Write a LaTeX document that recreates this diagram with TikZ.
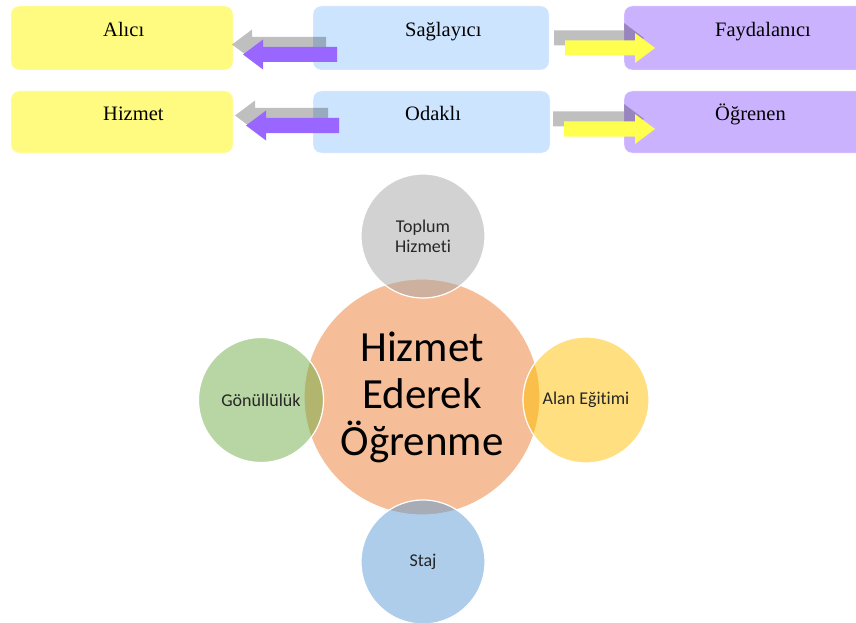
\documentclass[tikz,border=0pt]{standalone}
\usepackage{fontspec}
\setmainfont{Liberation Serif}
\newfontfamily\calibri[Ligatures=NoCommon]{Carlito}
\definecolor{boxyellow}{HTML}{FFFB80}
\definecolor{boxblue}{HTML}{CCE4FE}
\definecolor{boxpurple}{HTML}{CBB2FE}
\definecolor{arrpurple}{HTML}{9966FF}
\definecolor{arryellow}{HTML}{FFFF4F}
\definecolor{ringorange}{HTML}{ED7D31}
\definecolor{ringgrey}{HTML}{A5A5A5}
\definecolor{ringgreen}{HTML}{70AD47}
\definecolor{ringgold}{HTML}{FFC000}
\definecolor{ringblue}{HTML}{5B9BD5}

\begin{document}
\begin{tikzpicture}[x=1pt,y=-1pt,
    box/.style={rounded corners=8pt,draw=white,minimum height=64,inner sep=0},
    lbl/.style={anchor=base west,inner sep=0,font=\fontsize{20.5}{24}\selectfont},
    shade/.style={fill=black,fill opacity=0.25},
    ring/.style={circle,draw=white,line width=1.2pt,fill opacity=0.5,text opacity=1,inner sep=0,align=center,text=black!85,font=\calibri\fontsize{18}{20}\selectfont}]
  \useasboundingbox (0,0) rectangle (856,623);
  \clip (0,0) rectangle (856,623);
  % roles
  \node[box,fill=boxyellow,minimum width=222] (alici) at (122,38) {};
  \node[box,fill=boxblue,minimum width=236] (saglayici) at (431,38) {};
  \node[box,fill=boxpurple,minimum width=260] (faydalanici) at (754,38) {};
  \node[box,fill=boxyellow,minimum width=222,minimum height=62] (hizmet) at (122,122) {};
  \node[box,fill=boxblue,minimum width=237,minimum height=62] (odakli) at (431.5,122) {};
  \node[box,fill=boxpurple,minimum width=260,minimum height=62] (ogrenen) at (754,122) {};
  \node[lbl] (alicitext) at (103,37) {Alıcı};
  \node[lbl] (saglayicitext) at (405,37) {Sağlayıcı};
  \node[lbl] (faydalanicitext) at (715,37) {Faydalanıcı};
  \node[lbl] (hizmettext) at (103,121) {Hizmet};
  \node[lbl] (odaklitext) at (405,121) {Odaklı};
  \node[lbl] (ogrenentext) at (715,121) {Öğrenen};
  % block arrows, grey shadow first
  \fill[shade] (232,44.5) -- (252,29.5) -- (252,37) -- (326,37) -- (326,52) -- (252,52) -- (252,59.5) -- cycle;
  \fill[arrpurple] (243,54.5) -- (263,39.5) -- (263,47) -- (337,47) -- (337,62) -- (263,62) -- (263,69.5) -- cycle;
  \fill[shade] (235,115.5) -- (255,100.5) -- (255,108) -- (328,108) -- (328,123) -- (255,123) -- (255,130.5) -- cycle;
  \fill[arrpurple] (246,125.5) -- (266,110.5) -- (266,118) -- (339,118) -- (339,133) -- (266,133) -- (266,140.5) -- cycle;
  \fill[shade] (644,38) -- (624,23) -- (624,30.5) -- (554,30.5) -- (554,45.5) -- (624,45.5) -- (624,53) -- cycle;
  \fill[arryellow] (655,48) -- (635,33) -- (635,40.5) -- (565,40.5) -- (565,55.5) -- (635,55.5) -- (635,63) -- cycle;
  \fill[shade] (644,119) -- (624,104) -- (624,111.5) -- (553,111.5) -- (553,126.5) -- (624,126.5) -- (624,134) -- cycle;
  \fill[arryellow] (655,129) -- (635,114) -- (635,121.5) -- (564,121.5) -- (564,136.5) -- (635,136.5) -- (635,144) -- cycle;
  % radial venn
  \node[ring,fill=ringorange,minimum size=236,text=black,font=\calibri\fontsize{43}{47}\selectfont] (core) at (422,397) {Hizmet\\Ederek\\Öğrenme};
  \node[ring,fill=ringgrey,minimum size=124] (toplum) at (423,236) {Toplum\\Hizmeti};
  \node[ring,fill=ringgreen,minimum size=125] (gonullu) at (261,400) {Gönüllülük};
  \node[ring,fill=ringgold,minimum size=126] (alan) at (586,400) {Alan Eğitimi};
  \node[ring,fill=ringblue,minimum size=124] (staj) at (423,562) {Staj};
\end{tikzpicture}
\end{document}
